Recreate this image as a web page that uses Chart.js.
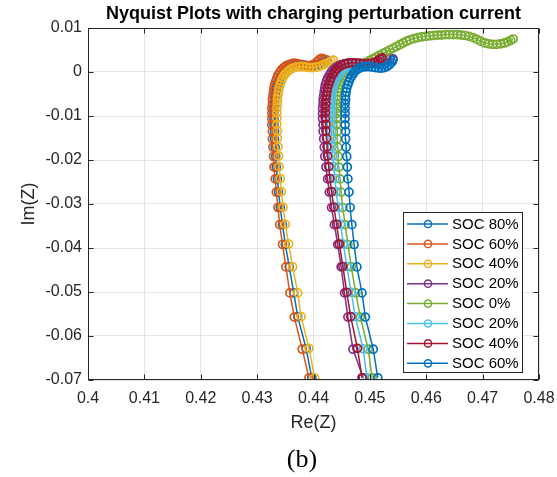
<!DOCTYPE html>
<html>
<head>
<meta charset="utf-8">
<script src="https://cdn.jsdelivr.net/npm/chart.js@4.4.1/dist/chart.umd.min.js"></script>
<style>
html, body { margin: 0; padding: 0; background: #fff; }
canvas { display: block; }
</style>
</head>
<body>
<canvas id="nyquist" width="557" height="477"></canvas>
<script>
// Axis tick labels
const xTickLabels = ['0.4', '0.41', '0.42', '0.43', '0.44', '0.45', '0.46', '0.47', '0.48'];
const yTickLabels = ['-0.07', '-0.06', '-0.05', '-0.04', '-0.03', '-0.02', '-0.01', '0', '0.01'];

// Legend entries and line colours, in plotting order
const seriesLabels = ['SOC 80%', 'SOC 60%', 'SOC 40%', 'SOC 20%', 'SOC 0%', 'SOC 20%', 'SOC 40%', 'SOC 60%'];
const seriesColors = ['#0072BD', '#D95319', '#EDB120', '#7E2F8E', '#77AC30', '#4DBEEE', '#A2142F', '#0072BD'];

const chartTitle = 'Nyquist Plots with charging perturbation current';
const panelCaption = '(b)';

// Impedance points [Re(Z), Im(Z)] for each state of charge
const socDown80 = [
  [0.4397, -0.0695], [0.4387, -0.0629], [0.4372, -0.0556], [0.4365, -0.0502], [0.4357, -0.0443],
  [0.4350, -0.0392], [0.4345, -0.0347], [0.4341, -0.0308], [0.4338, -0.0273], [0.4336, -0.0243],
  [0.4334, -0.0216], [0.4333, -0.0192], [0.4332, -0.0171], [0.4331, -0.0152], [0.4331, -0.0135],
  [0.4330, -0.0120], [0.4330, -0.0106], [0.4330, -0.0094], [0.4330, -0.0083], [0.4331, -0.0073],
  [0.4331, -0.0063], [0.4332, -0.0054], [0.4333, -0.0045], [0.4334, -0.0037], [0.4336, -0.0029],
  [0.4338, -0.0022], [0.4340, -0.0015], [0.4343, -0.0008], [0.4346, -0.0002], [0.4349, 0.0003],
  [0.4353, 0.0008], [0.4358, 0.0012], [0.4363, 0.0015], [0.4369, 0.0017], [0.4375, 0.0017],
  [0.4381, 0.0016], [0.4387, 0.0015], [0.4393, 0.0014], [0.4399, 0.0014], [0.4405, 0.0016],
  [0.4411, 0.0019], [0.4416, 0.0022], [0.4420, 0.0025], [0.4424, 0.0027]
];
const socDown60 = [
  [0.4392, -0.0695], [0.4380, -0.0630], [0.4366, -0.0557], [0.4358, -0.0502], [0.4351, -0.0443],
  [0.4345, -0.0392], [0.4340, -0.0347], [0.4337, -0.0308], [0.4334, -0.0273], [0.4332, -0.0243],
  [0.4330, -0.0216], [0.4329, -0.0192], [0.4328, -0.0171], [0.4327, -0.0152], [0.4327, -0.0135],
  [0.4326, -0.0120], [0.4326, -0.0106], [0.4326, -0.0094], [0.4326, -0.0083], [0.4327, -0.0073],
  [0.4327, -0.0063], [0.4328, -0.0054], [0.4329, -0.0045], [0.4330, -0.0037], [0.4331, -0.0029],
  [0.4333, -0.0021], [0.4335, -0.0014], [0.4337, -0.0007], [0.4340, -0.0001], [0.4343, 0.0005],
  [0.4347, 0.0010], [0.4351, 0.0014], [0.4356, 0.0017], [0.4361, 0.0019], [0.4366, 0.0020],
  [0.4372, 0.0019], [0.4378, 0.0017], [0.4384, 0.0015], [0.4390, 0.0014], [0.4396, 0.0015],
  [0.4401, 0.0018], [0.4406, 0.0023], [0.4410, 0.0028], [0.4414, 0.0031], [0.4418, 0.0030]
];
const socDown40 = [
  [0.4402, -0.0695], [0.4392, -0.0628], [0.4378, -0.0556], [0.4372, -0.0502], [0.4363, -0.0443],
  [0.4356, -0.0391], [0.4350, -0.0346], [0.4346, -0.0307], [0.4343, -0.0272], [0.4341, -0.0242],
  [0.4339, -0.0215], [0.4338, -0.0191], [0.4337, -0.0170], [0.4336, -0.0151], [0.4336, -0.0134],
  [0.4335, -0.0119], [0.4335, -0.0105], [0.4335, -0.0093], [0.4335, -0.0082], [0.4336, -0.0072],
  [0.4336, -0.0062], [0.4337, -0.0053], [0.4338, -0.0044], [0.4339, -0.0036], [0.4341, -0.0028],
  [0.4343, -0.0021], [0.4345, -0.0014], [0.4348, -0.0008], [0.4351, -0.0003], [0.4355, 0.0002],
  [0.4359, 0.0006], [0.4364, 0.0009], [0.4369, 0.0011], [0.4375, 0.0012], [0.4381, 0.0012],
  [0.4387, 0.0011], [0.4393, 0.0010], [0.4399, 0.0010], [0.4405, 0.0011], [0.4411, 0.0013],
  [0.4417, 0.0016], [0.4422, 0.0019], [0.4427, 0.0022], [0.4431, 0.0025], [0.4435, 0.0027]
];
const socDown20 = [
  [0.4488, -0.0695], [0.4470, -0.0630], [0.4461, -0.0557], [0.4455, -0.0502], [0.4449, -0.0443],
  [0.4443, -0.0392], [0.4437, -0.0347], [0.4432, -0.0308], [0.4428, -0.0273], [0.4425, -0.0243],
  [0.4422, -0.0216], [0.4420, -0.0192], [0.4419, -0.0171], [0.4418, -0.0152], [0.4417, -0.0135],
  [0.4417, -0.0120], [0.4416, -0.0106], [0.4416, -0.0094], [0.4416, -0.0083], [0.4417, -0.0073],
  [0.4417, -0.0063], [0.4418, -0.0054], [0.4419, -0.0045], [0.4420, -0.0037], [0.4421, -0.0029],
  [0.4423, -0.0021], [0.4425, -0.0014], [0.4428, -0.0007], [0.4431, -0.0001], [0.4435, 0.0005],
  [0.4439, 0.0010], [0.4444, 0.0014], [0.4449, 0.0017], [0.4455, 0.0019], [0.4461, 0.0020],
  [0.4467, 0.0020], [0.4474, 0.0019], [0.4481, 0.0018], [0.4488, 0.0017], [0.4495, 0.0016],
  [0.4502, 0.0017], [0.4509, 0.0019], [0.4516, 0.0022], [0.4523, 0.0026], [0.4530, 0.0029],
  [0.4536, 0.0031], [0.4541, 0.0030]
];
const soc0 = [
  [0.4504, -0.0695], [0.4497, -0.0630], [0.4483, -0.0557], [0.4475, -0.0502], [0.4467, -0.0443],
  [0.4461, -0.0392], [0.4456, -0.0347], [0.4452, -0.0308], [0.4449, -0.0273], [0.4447, -0.0243],
  [0.4445, -0.0216], [0.4444, -0.0192], [0.4443, -0.0171], [0.4442, -0.0152], [0.4442, -0.0135],
  [0.4441, -0.0120], [0.4441, -0.0106], [0.4441, -0.0094], [0.4441, -0.0083], [0.4441, -0.0073],
  [0.4442, -0.0063], [0.4442, -0.0054], [0.4443, -0.0045], [0.4444, -0.0037], [0.4446, -0.0029],
  [0.4448, -0.0022], [0.4450, -0.0015], [0.4453, -0.0009], [0.4456, -0.0003], [0.4460, 0.0002],
  [0.4464, 0.0006], [0.4469, 0.0010], [0.4475, 0.0013], [0.4481, 0.0016], [0.4487, 0.0019],
  [0.4493, 0.0022], [0.4499, 0.0026], [0.4505, 0.0030], [0.4511, 0.0034], [0.4517, 0.0038],
  [0.4523, 0.0042], [0.4529, 0.0046], [0.4535, 0.0050], [0.4541, 0.0054], [0.4547, 0.0058],
  [0.4553, 0.0062], [0.4559, 0.0066], [0.4565, 0.0070], [0.4571, 0.0073], [0.4578, 0.0076],
  [0.4585, 0.0078], [0.4592, 0.0080], [0.4599, 0.0081], [0.4606, 0.0082], [0.4613, 0.0083],
  [0.4620, 0.0084], [0.4627, 0.0084], [0.4634, 0.0085], [0.4641, 0.0085], [0.4648, 0.0085],
  [0.4655, 0.0085], [0.4662, 0.0084], [0.4669, 0.0083], [0.4676, 0.0081], [0.4683, 0.0078],
  [0.4690, 0.0074], [0.4697, 0.0070], [0.4704, 0.0066], [0.4711, 0.0064], [0.4718, 0.0063],
  [0.4725, 0.0063], [0.4732, 0.0064], [0.4739, 0.0066], [0.4745, 0.0069], [0.4750, 0.0072],
  [0.4754, 0.0075]
];
const socUp20 = [
  [0.4495, -0.0695], [0.4488, -0.0629], [0.4474, -0.0556], [0.4467, -0.0501], [0.4459, -0.0442],
  [0.4453, -0.0391], [0.4448, -0.0346], [0.4444, -0.0307], [0.4440, -0.0272], [0.4438, -0.0242],
  [0.4436, -0.0215], [0.4434, -0.0191], [0.4433, -0.0170], [0.4432, -0.0151], [0.4432, -0.0134],
  [0.4431, -0.0119], [0.4431, -0.0105], [0.4431, -0.0093], [0.4431, -0.0082], [0.4431, -0.0072],
  [0.4432, -0.0062], [0.4432, -0.0053], [0.4433, -0.0044], [0.4435, -0.0036], [0.4436, -0.0028],
  [0.4438, -0.0021], [0.4441, -0.0014], [0.4444, -0.0008], [0.4447, -0.0002], [0.4451, 0.0004],
  [0.4455, 0.0008], [0.4460, 0.0012], [0.4466, 0.0015], [0.4472, 0.0016], [0.4478, 0.0017],
  [0.4485, 0.0017], [0.4492, 0.0016], [0.4499, 0.0016], [0.4506, 0.0017], [0.4512, 0.0019],
  [0.4517, 0.0022], [0.4521, 0.0025]
];
const socUp40 = [
  [0.4486, -0.0695], [0.4478, -0.0628], [0.4466, -0.0556], [0.4459, -0.0501], [0.4452, -0.0442],
  [0.4446, -0.0391], [0.4441, -0.0346], [0.4436, -0.0307], [0.4432, -0.0272], [0.4429, -0.0242],
  [0.4427, -0.0215], [0.4425, -0.0191], [0.4424, -0.0170], [0.4423, -0.0151], [0.4422, -0.0134],
  [0.4422, -0.0119], [0.4421, -0.0105], [0.4421, -0.0093], [0.4421, -0.0082], [0.4422, -0.0072],
  [0.4422, -0.0062], [0.4423, -0.0053], [0.4424, -0.0044], [0.4425, -0.0036], [0.4427, -0.0028],
  [0.4429, -0.0020], [0.4431, -0.0013], [0.4434, -0.0006], [0.4437, 0.0000], [0.4441, 0.0006],
  [0.4445, 0.0011], [0.4450, 0.0015], [0.4456, 0.0018], [0.4462, 0.0020], [0.4468, 0.0021],
  [0.4475, 0.0021], [0.4482, 0.0020], [0.4489, 0.0019], [0.4496, 0.0019], [0.4503, 0.0020],
  [0.4509, 0.0022], [0.4514, 0.0026], [0.4518, 0.0030], [0.4522, 0.0032]
];
const socUp60 = [
  [0.4514, -0.0695], [0.4506, -0.0630], [0.4492, -0.0557], [0.4486, -0.0502], [0.4477, -0.0443],
  [0.4472, -0.0392], [0.4468, -0.0347], [0.4465, -0.0308], [0.4463, -0.0273], [0.4461, -0.0243],
  [0.4460, -0.0216], [0.4459, -0.0192], [0.4458, -0.0171], [0.4457, -0.0152], [0.4457, -0.0135],
  [0.4456, -0.0120], [0.4456, -0.0106], [0.4456, -0.0094], [0.4456, -0.0083], [0.4456, -0.0073],
  [0.4457, -0.0063], [0.4457, -0.0054], [0.4458, -0.0045], [0.4459, -0.0037], [0.4461, -0.0029],
  [0.4463, -0.0022], [0.4465, -0.0015], [0.4468, -0.0009], [0.4471, -0.0003], [0.4474, 0.0002],
  [0.4478, 0.0006], [0.4482, 0.0009], [0.4487, 0.0011], [0.4492, 0.0012], [0.4498, 0.0012],
  [0.4504, 0.0011], [0.4510, 0.0010], [0.4516, 0.0009], [0.4521, 0.0009], [0.4526, 0.0010],
  [0.4531, 0.0013], [0.4535, 0.0017], [0.4539, 0.0022], [0.4541, 0.0027]
];

const seriesData = [socDown80, socDown60, socDown40, socDown20, soc0, socUp20, socUp40, socUp60];

const datasets = seriesData.map((pts, i) => ({
  label: seriesLabels[i],
  data: pts.map(([x, y]) => ({ x, y })),
  showLine: true,
  borderColor: seriesColors[i],
  backgroundColor: 'rgba(0,0,0,0)',
  pointBorderColor: seriesColors[i],
  pointBackgroundColor: 'rgba(0,0,0,0)',
  borderWidth: 1.5,
  pointRadius: 4,
  pointHoverRadius: 4,
  pointBorderWidth: 1.7,
  tension: 0,
  // later series are drawn over earlier ones
  order: seriesData.length - 1 - i
}));

const axisColor = '#262626';

// Boxed axes with inward ticks on all four sides, a title centred over the
// plot area, a panel caption, and an inset legend in the lower right corner
const boxedAxes = {
  id: 'boxedAxes',
  beforeDraw(chart) {
    const ctx = chart.ctx;
    ctx.save();
    ctx.fillStyle = '#ffffff';
    ctx.fillRect(0, 0, chart.width, chart.height);
    ctx.restore();
  },
  afterDatasetsDraw(chart) {
    const { ctx, chartArea: a, scales } = chart;
    const L = Math.round(a.left) + 0.5, R = Math.round(a.right) - 0.5;
    const T = Math.round(a.top) + 0.5, B = Math.round(a.bottom) - 0.5;
    const tk = 5;
    ctx.save();
    ctx.strokeStyle = axisColor;
    ctx.lineWidth = 1;
    ctx.strokeRect(L, T, R - L, B - T);
    ctx.beginPath();
    scales.x.ticks.forEach(t => {
      const px = Math.round(scales.x.getPixelForValue(t.value)) + 0.5;
      ctx.moveTo(px, B); ctx.lineTo(px, B - tk);
      ctx.moveTo(px, T); ctx.lineTo(px, T + tk);
    });
    scales.y.ticks.forEach(t => {
      const py = Math.round(scales.y.getPixelForValue(t.value)) + 0.5;
      ctx.moveTo(L, py); ctx.lineTo(L + tk, py);
      ctx.moveTo(R, py); ctx.lineTo(R - tk, py);
    });
    ctx.stroke();

    // title
    ctx.fillStyle = '#000000';
    ctx.font = 'bold 18px "Liberation Sans", Arial, sans-serif';
    ctx.textAlign = 'center';
    ctx.textBaseline = 'middle';
    ctx.fillText(chartTitle, (a.left + a.right) / 2, a.top - 14);

    // panel caption under the axis label
    ctx.font = '26px "Liberation Serif", "Times New Roman", serif';
    ctx.fillText(panelCaption, 302, 460);
    ctx.restore();
  },
  afterDraw(chart) {
    const { ctx, chartArea: a } = chart;
    const w = 120, h = 161;
    const right = Math.round(a.right) - 16, bottom = Math.round(a.bottom) - 7;
    const left = right - w, top = bottom - h;
    ctx.save();
    ctx.fillStyle = '#ffffff';
    ctx.fillRect(left, top, w, h);
    ctx.strokeStyle = axisColor;
    ctx.lineWidth = 1;
    ctx.strokeRect(left + 0.5, top + 0.5, w - 1, h - 1);
    ctx.font = '15px "Liberation Sans", Arial, sans-serif';
    ctx.textBaseline = 'middle';
    ctx.textAlign = 'left';
    chart.data.datasets.forEach((ds, i) => {
      const cy = top + 12 + i * 19.9;
      ctx.strokeStyle = ds.borderColor;
      ctx.lineWidth = 1.5;
      ctx.beginPath();
      ctx.moveTo(left + 4, cy);
      ctx.lineTo(left + 45, cy);
      ctx.stroke();
      ctx.beginPath();
      ctx.arc(left + 25, cy, 3.6, 0, Math.PI * 2);
      ctx.stroke();
      ctx.fillStyle = '#000000';
      ctx.fillText(ds.label, left + 49, cy + 0.5);
    });
    ctx.restore();
  }
};

new Chart(document.getElementById('nyquist'), {
  type: 'scatter',
  data: { datasets },
  plugins: [boxedAxes],
  options: {
    responsive: false,
    animation: false,
    devicePixelRatio: 1,
    events: [],
    layout: { padding: { left: 0, right: 18, top: 28, bottom: 32.2 } },
    plugins: {
      legend: { display: false },
      tooltip: { enabled: false },
      title: { display: false },
      subtitle: { display: false }
    },
    scales: {
      x: {
        type: 'linear',
        min: 0.4,
        max: 0.48,
        afterFit(scale) { scale.height = 64.8; scale.paddingLeft = 0; scale.paddingRight = 0; },
        ticks: {
          stepSize: 0.01,
          padding: 9,
          color: axisColor,
          font: { family: '"Liberation Sans", Arial, sans-serif', size: 16 },
          maxRotation: 0,
          autoSkip: false,
          callback: (v, i) => xTickLabels[i]
        },
        grid: { color: '#e3e3e3', lineWidth: 1, drawTicks: false },
        border: { display: false },
        title: {
          display: true,
          text: 'Re(Z)',
          color: axisColor,
          font: { family: '"Liberation Sans", Arial, sans-serif', size: 18 },
          padding: { top: 0, bottom: 11 }
        }
      },
      y: {
        type: 'linear',
        min: -0.07,
        max: 0.01,
        afterFit(scale) { scale.width = 88; scale.paddingTop = 0; scale.paddingBottom = 0; },
        ticks: {
          stepSize: 0.01,
          padding: 6,
          color: axisColor,
          font: { family: '"Liberation Sans", Arial, sans-serif', size: 16 },
          autoSkip: false,
          callback: (v, i) => yTickLabels[i]
        },
        grid: { color: '#e3e3e3', lineWidth: 1, drawTicks: false },
        border: { display: false },
        title: {
          display: true,
          text: 'Im(Z)',
          color: axisColor,
          font: { family: '"Liberation Sans", Arial, sans-serif', size: 18 },
          padding: { top: 18, bottom: 0 }
        }
      }
    }
  }
});
</script>
</body>
</html>
